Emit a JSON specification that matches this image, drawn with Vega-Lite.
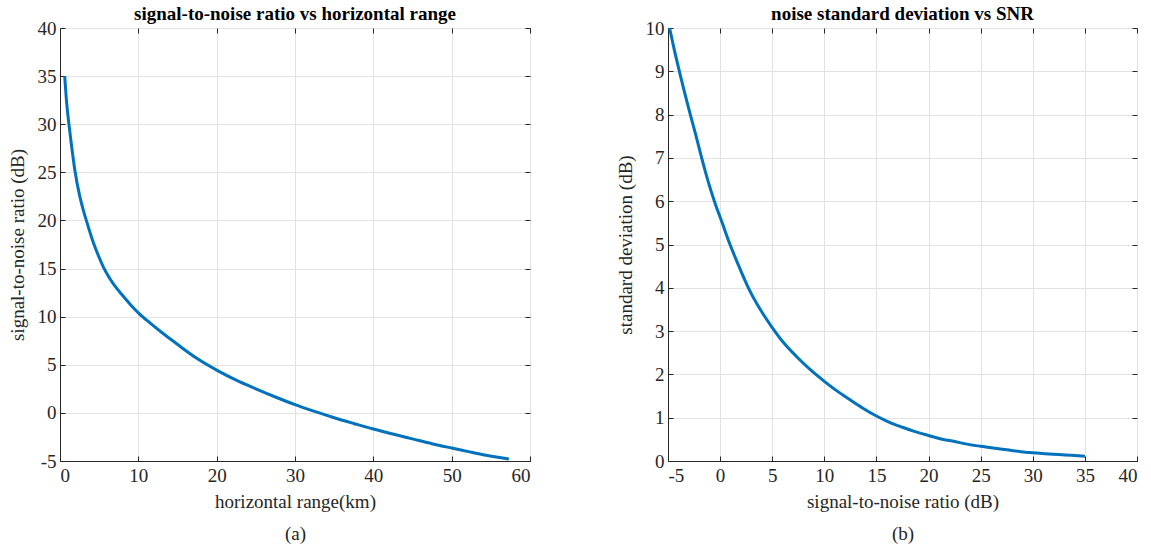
{
  "$schema": "https://vega.github.io/schema/vega-lite/v6.json",
  "padding": {"left": 7, "top": 4, "right": 5, "bottom": 5},
  "background": "white",
  "bounds": "flush",
  "spacing": 138,
  "config": {
    "view": {"stroke": "#262626", "strokeWidth": 1},
    "axis": {
      "grid": true,
      "gridColor": "#e2e2e2",
      "gridWidth": 1,
      "domainColor": "#262626",
      "tickColor": "#262626",
      "tickSize": -5,
      "labelFont": "Liberation Serif",
      "labelFontSize": 19,
      "labelColor": "#262626",
      "labelExpr": "replace(datum.label, '\u2212', '-')",
      "titleFont": "Liberation Serif",
      "titleFontSize": 19,
      "titleFontWeight": "normal",
      "titleColor": "#262626"
    },
    "axisX": {"labelPadding": 10},
    "axisY": {"labelPadding": 9},
    "title": {"font": "Liberation Serif", "fontSize": 19, "fontWeight": "bold", "color": "#000000", "offset": -5}
  },
  "hconcat": [
    {
      "width": 470,
      "height": 433,
      "title": "signal-to-noise ratio vs horizontal range",
      "data": {"values": [
        {"r": 0.6, "snr": 35}, {"r": 0.8, "snr": 32.7}, {"r": 1.0, "snr": 31.0}, {"r": 1.2, "snr": 29.6},
        {"r": 1.5, "snr": 27.6}, {"r": 1.9, "snr": 25.2}, {"r": 2.5, "snr": 22.6}, {"r": 3.0, "snr": 21.0},
        {"r": 3.4, "snr": 19.9}, {"r": 4.3, "snr": 17.6}, {"r": 5.0, "snr": 16.15}, {"r": 5.6, "snr": 15.05},
        {"r": 6.3, "snr": 14.05}, {"r": 7.0, "snr": 13.2}, {"r": 8, "snr": 12.2}, {"r": 9, "snr": 11.25},
        {"r": 10, "snr": 10.4}, {"r": 11.4, "snr": 9.4}, {"r": 13, "snr": 8.35}, {"r": 14.3, "snr": 7.55},
        {"r": 15.6, "snr": 6.75}, {"r": 17.5, "snr": 5.65}, {"r": 20, "snr": 4.45}, {"r": 22.5, "snr": 3.4},
        {"r": 25, "snr": 2.5}, {"r": 27.5, "snr": 1.65}, {"r": 30, "snr": 0.85}, {"r": 32.5, "snr": 0.15},
        {"r": 35, "snr": -0.5}, {"r": 37.5, "snr": -1.1}, {"r": 40, "snr": -1.68}, {"r": 42.5, "snr": -2.2},
        {"r": 45, "snr": -2.7}, {"r": 47.5, "snr": -3.2}, {"r": 50, "snr": -3.65}, {"r": 52, "snr": -4.0},
        {"r": 54, "snr": -4.35}, {"r": 55.5, "snr": -4.55}, {"r": 57.3, "snr": -4.8}
      ]},
      "layer": [
        {
          "mark": {"type": "line", "color": "#0072BD", "strokeWidth": 3, "interpolate": "monotone"},
          "encoding": {
            "x": {"field": "r", "type": "quantitative", "scale": {"domain": [0, 60], "nice": false},
                  "axis": {"orient": "bottom", "values": [0, 10, 20, 30, 40, 50, 60], "title": ["horizontal range(km)", "(a)"], "titleLineHeight": 32, "titlePadding": 7}},
            "y": {"field": "snr", "type": "quantitative", "scale": {"domain": [-5, 40], "nice": false},
                  "axis": {"orient": "left", "values": [-5, 0, 5, 10, 15, 20, 25, 30, 35, 40], "title": "signal-to-noise ratio (dB)", "titlePadding": 10}}
          }
        },
        {
          "mark": {"type": "line", "opacity": 0},
          "encoding": {
            "x": {"field": "r", "type": "quantitative",
                  "axis": {"orient": "top", "values": [0, 10, 20, 30, 40, 50, 60], "labels": false, "grid": false, "domain": false, "title": null}},
            "y": {"field": "snr", "type": "quantitative",
                  "axis": {"orient": "right", "values": [-5, 0, 5, 10, 15, 20, 25, 30, 35, 40], "labels": false, "grid": false, "domain": false, "title": null}}
          }
        }
      ]
    },
    {
      "width": 469,
      "height": 433,
      "title": "noise standard deviation vs SNR",
      "data": {"values": [
        {"snr": -4.85, "sd": 10}, {"snr": -4.4, "sd": 9.5}, {"snr": -3.91, "sd": 9}, {"snr": -3.4, "sd": 8.5},
        {"snr": -2.86, "sd": 8}, {"snr": -2.3, "sd": 7.5}, {"snr": -1.77, "sd": 7}, {"snr": -1.2, "sd": 6.5},
        {"snr": -0.55, "sd": 6}, {"snr": 0.2, "sd": 5.5}, {"snr": 0.95, "sd": 5}, {"snr": 1.8, "sd": 4.5},
        {"snr": 2.71, "sd": 4}, {"snr": 3.8, "sd": 3.52}, {"snr": 4.95, "sd": 3.1}, {"snr": 6.1, "sd": 2.73},
        {"snr": 7.3, "sd": 2.42}, {"snr": 8.6, "sd": 2.12}, {"snr": 10, "sd": 1.84}, {"snr": 11.2, "sd": 1.62},
        {"snr": 12.5, "sd": 1.41}, {"snr": 13.7, "sd": 1.22}, {"snr": 15, "sd": 1.04}, {"snr": 16.2, "sd": 0.9},
        {"snr": 17.5, "sd": 0.78}, {"snr": 18.7, "sd": 0.68}, {"snr": 20, "sd": 0.59}, {"snr": 21.2, "sd": 0.51},
        {"snr": 22.5, "sd": 0.45}, {"snr": 23.7, "sd": 0.39}, {"snr": 25, "sd": 0.34}, {"snr": 26.2, "sd": 0.3},
        {"snr": 27.5, "sd": 0.26}, {"snr": 28.7, "sd": 0.22}, {"snr": 30, "sd": 0.19}, {"snr": 31.2, "sd": 0.17},
        {"snr": 32.5, "sd": 0.15}, {"snr": 33.7, "sd": 0.13}, {"snr": 35, "sd": 0.11}
      ]},
      "layer": [
        {
          "mark": {"type": "line", "color": "#0072BD", "strokeWidth": 3, "interpolate": "monotone"},
          "encoding": {
            "x": {"field": "snr", "type": "quantitative", "scale": {"domain": [-5, 40], "nice": false},
                  "axis": {"orient": "bottom", "values": [-5, 0, 5, 10, 15, 20, 25, 30, 35, 40], "title": ["signal-to-noise ratio (dB)", "(b)"], "titleLineHeight": 32, "titlePadding": 7}},
            "y": {"field": "sd", "type": "quantitative", "scale": {"domain": [0, 10], "nice": false},
                  "axis": {"orient": "left", "values": [0, 1, 2, 3, 4, 5, 6, 7, 8, 9, 10], "title": "standard deviation (dB)", "titlePadding": 10}}
          }
        },
        {
          "mark": {"type": "line", "opacity": 0},
          "encoding": {
            "x": {"field": "snr", "type": "quantitative",
                  "axis": {"orient": "top", "values": [-5, 0, 5, 10, 15, 20, 25, 30, 35, 40], "labels": false, "grid": false, "domain": false, "title": null}},
            "y": {"field": "sd", "type": "quantitative",
                  "axis": {"orient": "right", "values": [0, 1, 2, 3, 4, 5, 6, 7, 8, 9, 10], "labels": false, "grid": false, "domain": false, "title": null}}
          }
        }
      ]
    }
  ]
}
